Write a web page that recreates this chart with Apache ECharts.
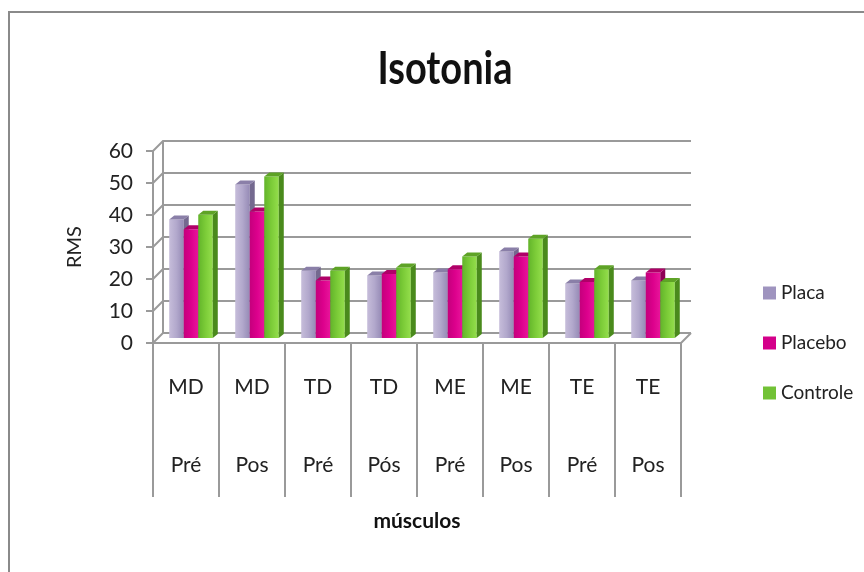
<!DOCTYPE html>
<html><head><meta charset="utf-8">
<script src="https://cdn.jsdelivr.net/npm/echarts@6/dist/echarts.min.js"></script>
<style>html,body{margin:0;padding:0;background:#fff}#c{width:864px;height:572px}</style>
</head><body><div id="c"></div>
<script>
// Muscle / phase categories
const muscles = ['MD', 'MD', 'TD', 'TD', 'ME', 'ME', 'TE', 'TE'];
const phases = ['Pré', 'Pos', 'Pré', 'Pós', 'Pré', 'Pos', 'Pré', 'Pos'];
// RMS per group
const placa = [37, 48, 21, 19.5, 20.5, 27, 17, 18];
const placebo = [34, 39.5, 18, 20, 21.5, 25.5, 17.5, 20.5];
const controle = [38.5, 50.5, 21, 22, 25.5, 31, 21.5, 17.5];
const seriesNames = ['Placa', 'Placebo', 'Controle'];
const yMin = 0, yMax = 60, yStep = 10;

const categories = muscles.map((m, i) => m + '\n\n' + phases[i]);
const FONT = 'Lato, "Open Sans", sans-serif';
const GRID_COLOR = '#9a9a9a';
// depth offset of the back wall relative to the front plane
const DX = 10, DY = -10;

// face colours per series: front gradient stops, side face, top face, legend swatch
const palette = [
  { front: ['#c6bdda', '#b2a8cc', '#958ab5'], side: '#74698f', top: '#8a7fa8', key: '#9f94bf' },
  { front: ['#c4007c', '#dc008c', '#e8159a'], side: '#8e0056', top: '#b00068', key: '#d4008a' },
  { front: ['#62b42a', '#7ccc38', '#94de4c'], side: '#4a8a1c', top: '#5ea326', key: '#72c236' }
];

function makeRender(si) {
  const p = palette[si];
  return function (params, api) {
    const ci = api.value(0), v = api.value(1);
    const top = api.coord([ci, v]);
    const base = api.coord([ci, 0]);
    const band = api.size([1, 0])[0];
    const bw = band * 0.22;
    const x0 = top[0] - 1.5 * bw + si * bw;
    const d = 5, e = 4;
    const y0 = top[1], y1 = base[1];
    return {
      type: 'group',
      children: [
        {
          type: 'rect',
          shape: { x: x0, y: y0, width: bw, height: y1 - y0 },
          style: {
            fill: new echarts.graphic.LinearGradient(0, 0, 1, 0, [
              { offset: 0, color: p.front[0] },
              { offset: 0.5, color: p.front[1] },
              { offset: 1, color: p.front[2] }
            ])
          }
        },
        {
          type: 'polygon',
          shape: { points: [[x0 + bw, y0], [x0 + bw + d, y0 - e], [x0 + bw + d, y1 - e], [x0 + bw, y1]] },
          style: { fill: p.side }
        },
        {
          type: 'polygon',
          shape: { points: [[x0, y0], [x0 + d, y0 - e], [x0 + bw + d, y0 - e], [x0 + bw, y0]] },
          style: { fill: p.top }
        }
      ]
    };
  };
}

const seriesData = [placa, placebo, controle];

const chart = echarts.init(document.getElementById('c'), null, { renderer: 'canvas' });

const hiddenX = (gi) => ({ type: 'category', gridIndex: gi, data: categories, show: false, boundaryGap: true });
const valueAxis = (gi, extra) => Object.assign({
  type: 'value', gridIndex: gi, min: yMin, max: yMax, interval: yStep
}, extra);

chart.setOption({
  animation: false,
  backgroundColor: '#ffffff',
  legend: {
    orient: 'vertical',
    left: 758,
    top: 278,
    icon: 'rect',
    itemWidth: 13,
    itemHeight: 13,
    itemGap: 30,
    data: seriesNames,
    textStyle: { fontFamily: FONT, fontSize: 19, color: '#222', lineHeight: 20 }
  },
  grid: [
    // front plane (axes, labels)
    { left: 153, right: 183, top: 151, bottom: 229 },
    // back wall
    { left: 153 + DX, right: 183 - DX, top: 151 + DY, bottom: 229 - DY },
    // bar plane, halfway in depth
    { left: 158, right: 178, top: 146, bottom: 234 }
  ],
  xAxis: [
    {
      type: 'category', gridIndex: 0, data: categories, boundaryGap: true,
      axisLine: { show: true, lineStyle: { color: GRID_COLOR, width: 2 } },
      axisTick: { show: true, length: 154, alignWithLabel: false, lineStyle: { color: GRID_COLOR, width: 2 } },
      axisLabel: { fontFamily: FONT, fontSize: 21, color: '#222', lineHeight: 39, margin: 25, interval: 0 },
      name: 'músculos',
      nameLocation: 'middle',
      nameGap: 168,
      nameTextStyle: { fontFamily: FONT, fontSize: 21, fontWeight: 'bold', color: '#111' }
    },
    hiddenX(1),
    hiddenX(2)
  ],
  yAxis: [
    valueAxis(0, {
      axisLine: { show: true, lineStyle: { color: GRID_COLOR, width: 2 } },
      axisTick: { show: true, length: 7, lineStyle: { color: GRID_COLOR, width: 2 } },
      splitLine: { show: false },
      axisLabel: { fontFamily: FONT, fontSize: 21, color: '#222', margin: 20 },
      name: 'RMS',
      nameLocation: 'middle',
      nameRotate: 90,
      nameGap: 68,
      nameTextStyle: { fontFamily: FONT, fontSize: 20, color: '#222' }
    }),
    valueAxis(1, {
      axisLine: { show: true, lineStyle: { color: GRID_COLOR, width: 2 } },
      axisTick: { show: false },
      axisLabel: { show: false },
      splitLine: { show: true, lineStyle: { color: GRID_COLOR, width: 2 } }
    }),
    valueAxis(2, { show: false })
  ],
  series: seriesNames.map((name, si) => ({
    name,
    type: 'custom',
    xAxisIndex: 2,
    yAxisIndex: 2,
    itemStyle: { color: palette[si].key },
    encode: { x: 0, y: 1 },
    data: seriesData[si].map((v, i) => [i, v]),
    renderItem: makeRender(si)
  }))
});

// side wall and floor edges joining the front plane to the back wall
const extras = [];
const lineStyle = { stroke: GRID_COLOR, lineWidth: 2 };
const r0 = chart.getModel().getComponent('grid', 0).coordinateSystem.getRect();
for (let v = yMin; v <= yMax; v += yStep) {
  const p = chart.convertToPixel({ xAxisIndex: 0, yAxisIndex: 0 }, [0, v]);
  extras.push({ type: 'line', shape: { x1: r0.x, y1: p[1], x2: r0.x + DX, y2: p[1] + DY }, style: lineStyle, silent: true });
}
extras.push({
  type: 'line',
  shape: { x1: r0.x + r0.width, y1: r0.y + r0.height, x2: r0.x + r0.width + DX, y2: r0.y + r0.height + DY },
  style: lineStyle, silent: true
});
// chart frame
extras.push({
  type: 'rect', shape: { x: 9, y: 12, width: 900, height: 600 },
  style: { fill: null, stroke: '#8a8a8a', lineWidth: 2 }, silent: true
});
// title, drawn slightly tall and narrow
extras.push({
  type: 'text', x: 445, y: 69, scaleY: 1.2,
  style: {
    text: 'Isotonia', fill: '#111', align: 'center', verticalAlign: 'middle',
    font: 'bold 38px ' + FONT
  },
  silent: true
});
chart.setOption({ graphic: extras });
</script>
</body></html>
